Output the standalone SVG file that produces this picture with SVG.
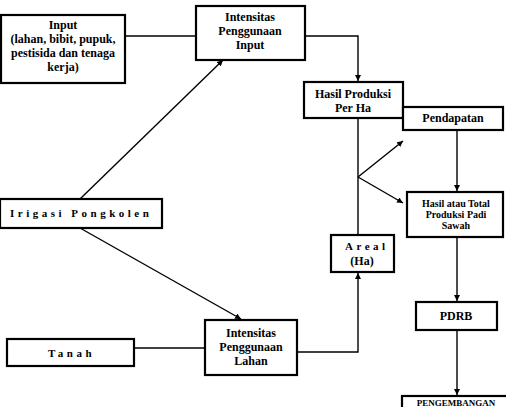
<svg xmlns="http://www.w3.org/2000/svg" width="506" height="407" viewBox="0 0 506 407">
<defs>
<marker id="arr" viewBox="0 0 10 10" refX="10" refY="5" markerWidth="6" markerHeight="6" markerUnits="userSpaceOnUse" orient="auto">
<path d="M0,0 L10,5 L0,10 z" fill="#000"/>
</marker>
<style>
rect{fill:#fff;stroke:#000;stroke-width:2.2}
text{font-family:"Liberation Serif","Times New Roman",serif;font-weight:bold;font-size:12px;fill:#000;text-anchor:middle}
.sp{letter-spacing:3.5px;text-anchor:start;font-size:11px}
.sm{font-size:10px}
.xs{font-size:9px}
#connectors path,#connectors line{fill:none;stroke:#000;stroke-width:1.4}
.a{marker-end:url(#arr)}
</style>
</defs>
<rect x="0" y="0" width="506" height="407" style="fill:#fff;stroke:none"/>
<g id="connectors">
<line x1="125" y1="36" x2="196" y2="36"/>
<path class="a" d="M305,36 H358 V81"/>
<line x1="358" y1="118" x2="358" y2="235"/>
<line class="a" x1="358" y1="177" x2="403" y2="141"/>
<line class="a" x1="358" y1="177" x2="403" y2="203"/>
<line class="a" x1="457" y1="130" x2="457" y2="191"/>
<line class="a" x1="457" y1="237" x2="457" y2="301"/>
<line class="a" x1="457" y1="330" x2="457" y2="395"/>
<line class="a" x1="80" y1="199" x2="223" y2="60"/>
<line class="a" x1="80" y1="228" x2="241" y2="319"/>
<path class="a" d="M297,352 H358 V273"/>
<line x1="134" y1="348" x2="205" y2="348"/>
</g>
<g id="input">
<rect x="1" y="15" width="124" height="68"/>
<text x="63" y="29">Input</text>
<text x="63" y="43">(lahan, bibit, pupuk,</text>
<text x="63" y="57">pestisida dan tenaga</text>
<text x="63" y="71">kerja)</text>
</g>
<g id="intensitas-input">
<rect x="196" y="6" width="109" height="54"/>
<text x="250" y="21">Intensitas</text>
<text x="250" y="35">Penggunaan</text>
<text x="250" y="49">Input</text>
</g>
<g id="hasil-produksi">
<rect x="304" y="82" width="99" height="36"/>
<text x="353" y="98">Hasil Produksi</text>
<text x="353" y="112">Per Ha</text>
</g>
<g id="pendapatan">
<rect x="403" y="107" width="100" height="23"/>
<text x="453" y="122">Pendapatan</text>
</g>
<g id="hasil-total">
<rect x="407" y="192" width="96" height="45"/>
<text class="sm" x="456" y="207">Hasil atau Total</text>
<text class="sm" x="456" y="218">Produksi Padi</text>
<text class="sm" x="456" y="229">Sawah</text>
</g>
<g id="areal">
<rect x="331" y="235" width="63" height="37"/>
<text class="sp" x="345" y="250">Areal</text>
<text x="362" y="265">(Ha)</text>
</g>
<g id="pdrb">
<rect x="416" y="302" width="81" height="28"/>
<text x="456" y="320">PDRB</text>
</g>
<g id="pengembangan">
<rect x="402" y="396" width="110" height="30"/>
<text class="xs" x="456" y="406">PENGEMBANGAN</text>
</g>
<g id="irigasi">
<rect x="0" y="199" width="162" height="29"/>
<text class="sp" x="10" y="217">Irigasi Pongkolen</text>
</g>
<g id="intensitas-lahan">
<rect x="205" y="320" width="92" height="55"/>
<text x="251" y="337">Intensitas</text>
<text x="251" y="351">Penggunaan</text>
<text x="251" y="365">Lahan</text>
</g>
<g id="tanah">
<rect x="7" y="339" width="127" height="27"/>
<text class="sp" x="48" y="357">Tanah</text>
</g>
</svg>
